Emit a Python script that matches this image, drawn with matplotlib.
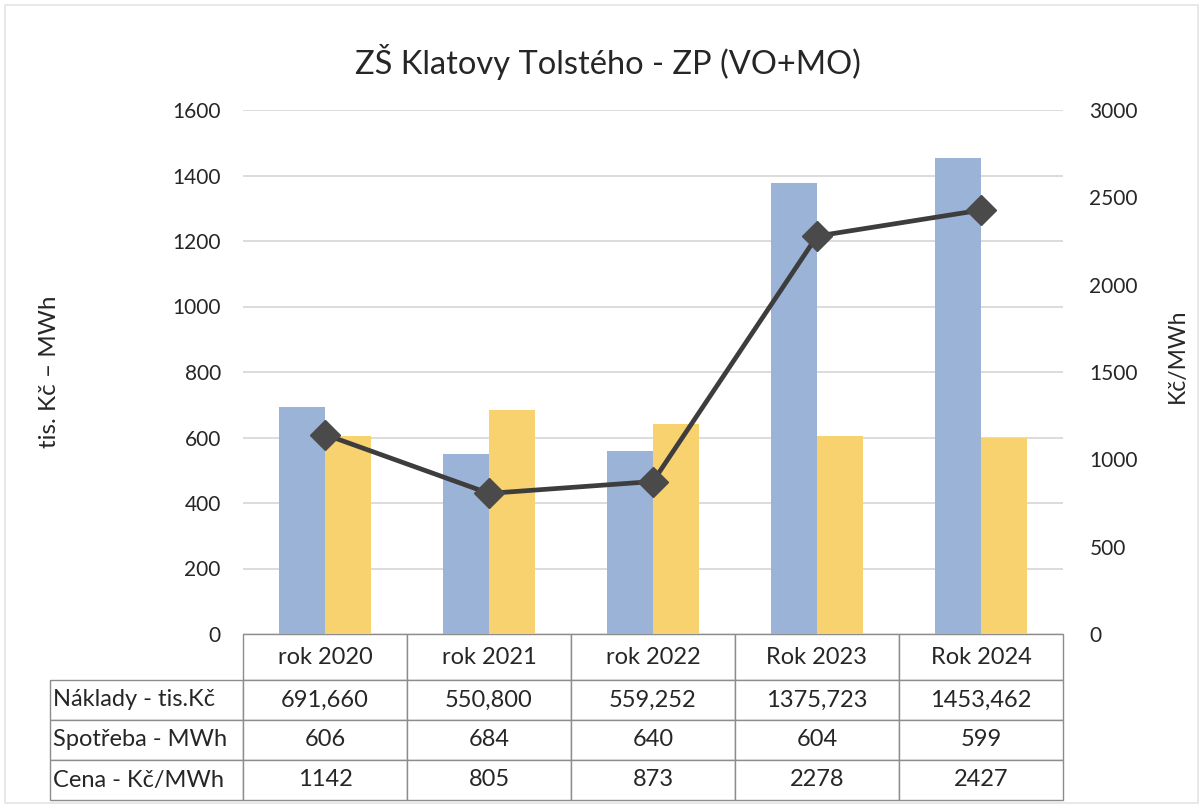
import numpy as np
import matplotlib
matplotlib.use("Agg")
from matplotlib import pyplot as plt

plt.rcParams['font.family'] = ['Lato', 'DejaVu Sans']

roky = ["rok 2020", "rok 2021", "rok 2022", "Rok 2023", "Rok 2024"]
naklady = [691.660, 550.800, 559.252, 1375.723, 1453.462]   # tis. Kč
spotreba = [606, 684, 640, 604, 599]                        # MWh
cena = [1142, 805, 873, 2278, 2427]                         # Kč/MWh
radky = ["Náklady - tis.Kč", "Spotřeba - MWh", "Cena - Kč/MWh"]

c_blue = "#9bb3d6"
c_yellow = "#f8d26f"
c_line = "#3d3d3d"
c_grid = "#d6d6d6"
c_text = "#262626"

W, H = 1203, 808
fig = plt.figure(figsize=(W / 100, H / 100), dpi=100)

# plot area in pixels: x 243..1063, y 110..634
ax = fig.add_axes([243 / W, 1 - 634 / H, 820 / W, 524 / H])
x = np.arange(len(roky))
bw = 0.28
ax.bar(x - bw / 2, naklady, bw, color=c_blue, zorder=2)
ax.bar(x + bw / 2, spotreba, bw, color=c_yellow, zorder=2)

ax.set_xlim(-0.5, len(roky) - 0.5)
ax.set_ylim(0, 1600)
ax.set_yticks(np.arange(0, 1601, 200))
ax.yaxis.grid(True, color=c_grid, lw=1.2, zorder=0)
ax.set_xticks([])
for s in ax.spines.values():
    s.set_visible(False)
ax.tick_params(axis='y', length=0, pad=16, labelsize=15, labelcolor=c_text)
ax.set_ylabel("tis. Kč – MWh", fontsize=17.5, color=c_text)
ax.yaxis.set_label_coords(-(243 - 60) / 820, 0.5)

ax2 = ax.twinx()
ax2.plot(x, cena, color=c_line, lw=3.4, marker='D', ms=15,
         mfc="#4a4a4a", mec="#4a4a4a", zorder=3)
ax2.set_ylim(0, 3000)
ax2.set_yticks(np.arange(0, 3001, 500))
for s in ax2.spines.values():
    s.set_visible(False)
ax2.tick_params(axis='y', length=0, pad=19, labelsize=15, labelcolor=c_text)
ax2.set_ylabel("Kč/MWh", fontsize=16.5, color=c_text)
ax2.yaxis.set_label_coords((1167 - 243) / 820, (634 - 356) / 524)

fig.text(608 / W, 1 - 62 / H, "ZŠ Klatovy Tolstého - ZP (VO+MO)",
         ha='center', va='center', fontsize=23.5, color=c_text)

# data table under the plot area
cell_text = [
    [radky[0]] + [f"{v:.3f}".replace('.', ',') for v in naklady],
    [radky[1]] + [str(v) for v in spotreba],
    [radky[2]] + [str(v) for v in cena],
]
col_labels = [""] + roky
lab_w = 193 / 820
tab_h = 166 / 524
tbl = ax.table(cellText=cell_text, colLabels=col_labels,
               colWidths=[lab_w] + [1 / 5] * 5,
               cellLoc='center',
               bbox=[-lab_w, -tab_h, 1 + lab_w, tab_h])
tbl.auto_set_font_size(False)
for (r, c), cell in tbl.get_celld().items():
    cell.set_edgecolor("#8c8c8c")
    cell.set_linewidth(1.0)
    cell.set_height(46 if r == 0 else 40)
    cell.get_text().set_fontsize(17)
    cell.get_text().set_color(c_text)
    if c == 0:
        cell.get_text().set_ha('left')
        cell.PAD = 0.015
    if r == 0 and c == 0:
        cell.visible_edges = ''

# faint scan border around the chart
fig.add_artist(plt.Rectangle((5 / W, 5 / H), 1 - 10 / W, 1 - 10 / H,
                             transform=fig.transFigure, fill=False,
                             ec="#e4e4e4", lw=1.2))

fig.savefig("out.png", dpi=100)
